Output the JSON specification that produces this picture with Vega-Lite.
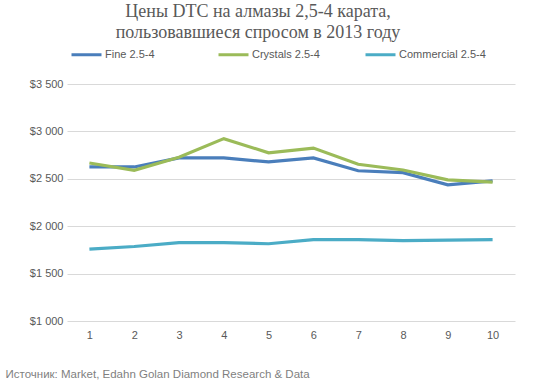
{
  "$schema": "https://vega.github.io/schema/vega-lite/v6.json",
  "width": 448,
  "height": 237,
  "autosize": {"type": "none"},
  "padding": {"left": 67, "top": 84, "right": 39, "bottom": 62},
  "background": "white",
  "title": {
    "text": ["Цены DTC на алмазы 2,5-4 карата,", "пользовавшиеся спросом в 2013 году"],
    "font": "Liberation Serif",
    "fontSize": 18,
    "fontWeight": "normal",
    "color": "#595959",
    "lineHeight": 21,
    "anchor": "middle",
    "frame": "group",
    "dx": -33,
    "offset": -4
  },
  "data": {
    "values": [
      {"x": 1, "series": "Fine 2.5-4", "value": 2625},
      {"x": 2, "series": "Fine 2.5-4", "value": 2625},
      {"x": 3, "series": "Fine 2.5-4", "value": 2720},
      {"x": 4, "series": "Fine 2.5-4", "value": 2720},
      {"x": 5, "series": "Fine 2.5-4", "value": 2678},
      {"x": 6, "series": "Fine 2.5-4", "value": 2720},
      {"x": 7, "series": "Fine 2.5-4", "value": 2585},
      {"x": 8, "series": "Fine 2.5-4", "value": 2565},
      {"x": 9, "series": "Fine 2.5-4", "value": 2436},
      {"x": 10, "series": "Fine 2.5-4", "value": 2479},
      {"x": 1, "series": "Crystals 2.5-4", "value": 2667},
      {"x": 2, "series": "Crystals 2.5-4", "value": 2590},
      {"x": 3, "series": "Crystals 2.5-4", "value": 2728},
      {"x": 4, "series": "Crystals 2.5-4", "value": 2924},
      {"x": 5, "series": "Crystals 2.5-4", "value": 2774},
      {"x": 6, "series": "Crystals 2.5-4", "value": 2824},
      {"x": 7, "series": "Crystals 2.5-4", "value": 2653},
      {"x": 8, "series": "Crystals 2.5-4", "value": 2593},
      {"x": 9, "series": "Crystals 2.5-4", "value": 2489},
      {"x": 10, "series": "Crystals 2.5-4", "value": 2464},
      {"x": 1, "series": "Commercial 2.5-4", "value": 1758},
      {"x": 2, "series": "Commercial 2.5-4", "value": 1786},
      {"x": 3, "series": "Commercial 2.5-4", "value": 1826},
      {"x": 4, "series": "Commercial 2.5-4", "value": 1826},
      {"x": 5, "series": "Commercial 2.5-4", "value": 1815},
      {"x": 6, "series": "Commercial 2.5-4", "value": 1858},
      {"x": 7, "series": "Commercial 2.5-4", "value": 1858},
      {"x": 8, "series": "Commercial 2.5-4", "value": 1847},
      {"x": 9, "series": "Commercial 2.5-4", "value": 1854},
      {"x": 10, "series": "Commercial 2.5-4", "value": 1858}
    ]
  },
  "mark": {"type": "line", "strokeWidth": 3.2},
  "encoding": {
    "x": {
      "field": "x",
      "type": "ordinal",
      "scale": {"type": "point", "padding": 0.5},
      "axis": {
        "title": "Источник:  Market, Edahn Golan Diamond Research & Data",
        "titleFont": "Liberation Sans",
        "titleFontSize": 11.5,
        "titleFontWeight": "normal",
        "titleColor": "#7f7f7f",
        "titleAnchor": null,
        "titleAlign": "left",
        "titleX": -62,
        "titleY": 56,
        "titleBaseline": "alphabetic",
        "labelAngle": 0,
        "labelFont": "Liberation Sans",
        "labelFontSize": 11,
        "labelColor": "#595959",
        "labelPadding": 8,
        "domain": false,
        "ticks": false,
        "grid": false
      }
    },
    "y": {
      "field": "value",
      "type": "quantitative",
      "scale": {"domain": [1000, 3500], "nice": false, "zero": false},
      "axis": {
        "title": null,
        "values": [1000, 1500, 2000, 2500, 3000, 3500],
        "labelExpr": "'$' + replace(format(datum.value, ',.0f'), ',', ' ')",
        "labelFont": "Liberation Sans",
        "labelFontSize": 11,
        "labelColor": "#595959",
        "labelPadding": 4,
        "domain": false,
        "ticks": false,
        "grid": true,
        "gridColor": "#d9d9d9",
        "gridWidth": 1
      }
    },
    "color": {
      "field": "series",
      "type": "nominal",
      "scale": {
        "domain": ["Fine 2.5-4", "Crystals 2.5-4", "Commercial 2.5-4"],
        "range": ["#4a7ebb", "#9bbb59", "#4bacc6"]
      },
      "legend": {
        "title": null,
        "orient": "none",
        "direction": "horizontal",
        "legendX": 3,
        "legendY": -46,
        "symbolType": "stroke",
        "symbolSize": 900,
        "symbolStrokeWidth": 3,
        "labelFont": "Liberation Sans",
        "labelFontSize": 11,
        "labelColor": "#595959",
        "labelOffset": 2,
        "gridAlign": "all",
        "columnPadding": 20
      }
    }
  },
  "config": {"view": {"stroke": null}}
}
